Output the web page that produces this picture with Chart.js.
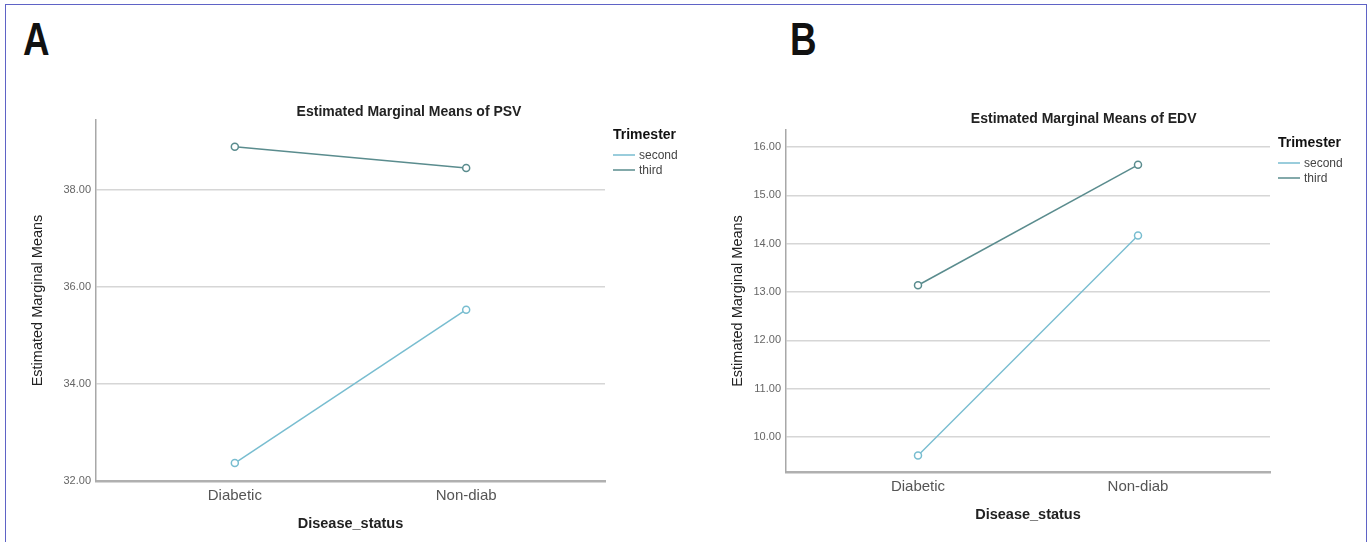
<!DOCTYPE html>
<html>
<head>
<meta charset="utf-8">
<script src="https://cdn.jsdelivr.net/npm/chart.js@4.4.1/dist/chart.umd.min.js"></script>
<style>
  html, body { margin: 0; padding: 0; background: #ffffff; }
  body { width: 1371px; height: 542px; position: relative; overflow: hidden; }
  #frame { position: absolute; left: 5px; top: 4px; width: 1362px; height: 560px;
           border: 1.5px solid #5f63c6; box-sizing: border-box; }
  .panel { position: absolute; font-family: 'Liberation Sans', Arial, sans-serif;
           font-weight: bold; font-size: 46px; line-height: 1; color: #111;
           transform: scaleX(0.8); transform-origin: left top; }
  canvas { position: absolute; top: 0; }
</style>
</head>
<body>
<div id="frame"></div>
<div class="panel" id="lblA" style="left:23px; top:16px;">A</div>
<div class="panel" id="lblB" style="left:790px; top:16px;">B</div>
<canvas id="chartA" width="700" height="542" style="left:0px;"></canvas>
<canvas id="chartB" width="671" height="542" style="left:700px;"></canvas>
<script>
// ---- data ----
const categories = ['Diabetic', 'Non-diab'];
const seriesNames = ['second', 'third'];
const legendTitle = 'Trimester';
const xAxisTitle = 'Disease_status';
const yAxisTitle = 'Estimated Marginal Means';
const titlePSV = 'Estimated Marginal Means of PSV';
const titleEDV = 'Estimated Marginal Means of EDV';
const psvSecond = [32.37, 35.53];
const psvThird = [38.89, 38.45];
const edvSecond = [9.62, 14.17];
const edvThird = [13.14, 15.63];
const psvTicks = [32, 34, 36, 38];
const edvTicks = [10, 11, 12, 13, 14, 15, 16];

const colors = ['#78bdd0', '#5a8c8e'];
const FONT = "'Liberation Sans', Arial, sans-serif";

const overlayPlugin = {
  id: 'overlay',
  afterDraw(chart, args, opts) {
    const ctx = chart.ctx;
    const ca = chart.chartArea;
    ctx.save();
    // title
    ctx.fillStyle = '#222';
    ctx.font = 'bold 14px ' + FONT;
    ctx.textAlign = 'center';
    ctx.textBaseline = 'middle';
    ctx.fillText(opts.title, ca.left + opts.titleFrac * (ca.right - ca.left), ca.top + opts.titleDy);
    // legend
    const lx = ca.right + 8;
    ctx.textAlign = 'left';
    ctx.font = 'bold 14px ' + FONT;
    ctx.fillStyle = '#111';
    ctx.fillText(legendTitle, lx, ca.top + opts.legDy);
    chart.data.datasets.forEach((ds, i) => {
      const y = ca.top + opts.legDy + 20 + i * 15;
      ctx.strokeStyle = ds.borderColor;
      ctx.lineWidth = 1.5;
      ctx.beginPath();
      ctx.moveTo(lx, y);
      ctx.lineTo(lx + 22, y);
      ctx.stroke();
      ctx.fillStyle = '#444';
      ctx.font = '12px ' + FONT;
      ctx.fillText(ds.label, lx + 26, y + 1);
    });
    ctx.restore();
  }
};

function makeChart(id, seriesA, seriesB, ticks, yMin, yMax, cfg) {
  const datasets = [seriesA, seriesB].map((vals, i) => ({
    label: seriesNames[i],
    data: vals.map((v, k) => ({ x: k, y: v })),
    borderColor: colors[i],
    backgroundColor: '#ffffff',
    borderWidth: 1.5,
    pointRadius: 3.5,
    pointBorderWidth: 1.5,
    pointBackgroundColor: '#ffffff',
    pointBorderColor: colors[i],
    tension: 0
  }));
  return new Chart(document.getElementById(id), {
    type: 'line',
    data: { datasets },
    plugins: [overlayPlugin],
    options: {
      responsive: false,
      animation: false,
      events: [],
      layout: { padding: { left: 0, top: cfg.top, right: cfg.right, bottom: 0 } },
      plugins: {
        legend: { display: false },
        title: { display: false },
        tooltip: { enabled: false },
        overlay: { title: cfg.title, titleFrac: 0.615, titleDy: cfg.titleDy, legDy: cfg.legDy }
      },
      scales: {
        x: {
          type: 'linear',
          min: -0.6,
          max: 1.6,
          afterBuildTicks: s => { s.ticks = categories.map((c, k) => ({ value: k })); },
          afterFit: s => { s.height = cfg.xHeight; },
          ticks: {
            callback: v => categories[v] !== undefined ? categories[v] : '',
            font: { family: FONT, size: 15 },
            color: '#555',
            padding: 6,
            maxRotation: 0,
            autoSkip: false
          },
          grid: { display: false, drawTicks: false },
          border: { display: true, color: '#b0b0b0', width: 2.5 },
          title: {
            display: true,
            text: xAxisTitle,
            font: { family: FONT, size: 14.5, weight: 'bold' },
            color: '#222',
            padding: { top: 0, bottom: cfg.xTitlePad }
          }
        },
        y: {
          type: 'linear',
          min: yMin,
          max: yMax,
          afterBuildTicks: s => { s.ticks = ticks.map(v => ({ value: v })); },
          afterFit: s => { s.width = cfg.yWidth; },
          ticks: {
            callback: v => Number(v).toFixed(2),
            font: { family: FONT, size: 11 },
            color: '#666',
            padding: 5
          },
          grid: { color: '#d6d6d6', lineWidth: 1.5, drawTicks: false },
          border: { display: true, color: '#a8a8a8', width: 1.5 },
          title: {
            display: true,
            text: yAxisTitle,
            font: { family: FONT, size: 14.5 },
            color: '#222',
            padding: { top: cfg.yTitlePad, bottom: 0 }
          }
        }
      }
    }
  });
}

makeChart('chartA', psvSecond, psvThird, psvTicks, 32, 39.44, {
  top: 120, right: 95, yWidth: 96, xHeight: 61, xTitlePad: 9, yTitlePad: 29,
  title: titlePSV, titleDy: -8, legDy: 15
});
makeChart('chartB', edvSecond, edvThird, edvTicks, 9.28, 16.35, {
  top: 130, right: 101, yWidth: 86, xHeight: 70, xTitlePad: 18, yTitlePad: 29,
  title: titleEDV, titleDy: -11, legDy: 13
});
</script>
</body>
</html>
